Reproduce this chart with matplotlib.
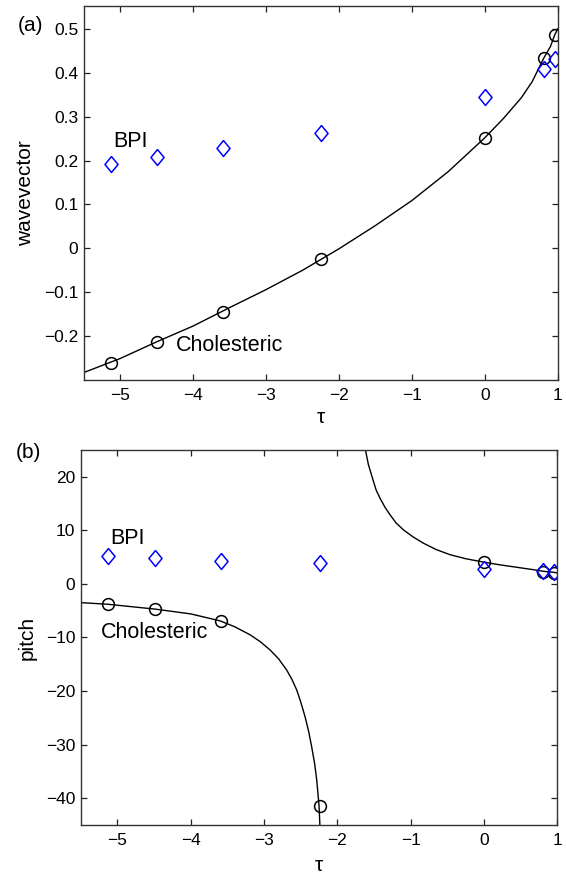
import matplotlib
matplotlib.use('Agg')
import matplotlib.pyplot as plt

plt.rcParams['font.family'] = ['Liberation Sans', 'DejaVu Sans']

# Messpunkte
tau = [-5.13, -4.49, -3.59, -2.24, 0.0, 0.81, 0.96]
q_chol = [-0.261, -0.214, -0.145, -0.024, 0.252, 0.434, 0.487]
q_bpi = [0.192, 0.208, 0.228, 0.262, 0.345, 0.408, 0.432]
pitch_chol = [-3.8, -4.7, -6.9, -41.4, 4.04, 2.3, 2.1]
pitch_bpi = [5.2, 4.8, 4.35, 3.85, 2.75, 2.4, 2.3]

# Fitkurve wavevector
tau_fit = [-5.5, -5.0, -4.5, -4.0, -3.5, -3.0, -2.5, -2.0, -1.5, -1.0, -0.5,
           0.0, 0.25, 0.5, 0.65, 0.81, 0.9, 0.96, 1.0]
q_fit = [-0.283, -0.251, -0.213, -0.177, -0.135, -0.094, -0.050, -0.001, 0.052,
         0.109, 0.175, 0.252, 0.295, 0.343, 0.38, 0.434, 0.46, 0.487, 0.50]

# Fitkurve pitch, zwei Aeste
tau_low = [-5.5, -5.13, -4.49, -4.0, -3.6, -3.4, -3.19, -3.05, -2.92, -2.8,
           -2.69, -2.62, -2.554, -2.5, -2.44, -2.39, -2.35, -2.31, -2.281, -2.25,
           -2.236]
p_low = [-3.5, -3.8, -4.7, -5.6, -6.9, -8.0, -9.5, -10.8, -12.3, -14.0,
         -16.1, -17.8, -19.8, -22.0, -24.8, -27.6, -30.4, -33.5, -36.6, -41.3,
         -45.6]
tau_up = [-1.622, -1.577, -1.509, -1.47, -1.418, -1.35, -1.281, -1.2, -1.10,
          -0.97, -0.827, -0.65, -0.463, -0.25, 0.0, 0.22, 0.447, 0.65, 0.81,
          0.946, 1.0]
p_up = [25.4, 22.3, 19.2, 17.5, 16.0, 14.3, 12.9, 11.4, 10.1, 8.8, 7.6, 6.4,
        5.45, 4.7, 4.05, 3.55, 3.1, 2.7, 2.35, 2.17, 2.05]

xticks = [-5, -4, -3, -2, -1, 0, 1]
yticks_a = [-0.2, -0.1, 0, 0.1, 0.2, 0.3, 0.4, 0.5]
yticks_b = [-40, -30, -20, -10, 0, 10, 20]

diamond = [(0, 1), (0.82, 0), (0, -1), (-0.82, 0), (0, 1)]


def style_axes(ax):
    ax.tick_params(direction='in', top=True, right=True, length=4.5, width=0.9,
                   labelsize=12.5, color='#222222')
    ax.tick_params(axis='x', pad=6)
    ax.tick_params(axis='y', pad=4)
    for s in ax.spines.values():
        s.set_linewidth(1.0)
        s.set_color('#333333')


fig = plt.figure(figsize=(5.66, 8.73), dpi=100)

# (a) wavevector
ax1 = fig.add_axes([0.1479, 0.5647, 0.8375, 0.4288])
ax1.plot(tau_fit, q_fit, color='black', lw=1.0)
ax1.plot(tau, q_chol, 'o', ms=8.5, mfc='none', mec='black', mew=1.1)
ax1.plot(tau, q_bpi, marker=diamond, ls='none', ms=11.5, mfc='none', mec='blue', mew=1.1)
ax1.set_xlim(-5.5, 1)
ax1.set_ylim(-0.3, 0.553)
ax1.set_xticks(xticks)
ax1.set_yticks(yticks_a)
ax1.set_yticklabels(['\u22120.2', '\u22120.1', '0', '0.1', '0.2', '0.3', '0.4', '0.5'])
ax1.set_xlabel('\u03c4', fontsize=15, va='center')
ax1.xaxis.set_label_coords(0.5, -0.10)
ax1.set_ylabel('wavevector', fontsize=15, va='center')
ax1.yaxis.set_label_coords(-0.123, 0.5)
ax1.text(-5.10, 0.243, 'BPI', fontsize=15.5, va='center', ha='left')
ax1.text(-4.24, -0.222, 'Cholesteric', fontsize=15.5, va='center', ha='left')
style_axes(ax1)

# (b) pitch
ax2 = fig.add_axes([0.1426, 0.055, 0.842, 0.4296])
ax2.plot(tau_low, p_low, color='black', lw=1.0)
ax2.plot(tau_up, p_up, color='black', lw=1.0)
ax2.plot(tau, pitch_chol, 'o', ms=8.5, mfc='none', mec='black', mew=1.1)
ax2.plot(tau, pitch_bpi, marker=diamond, ls='none', ms=11.5, mfc='none', mec='blue', mew=1.1)
ax2.set_xlim(-5.5, 1)
ax2.set_ylim(-45, 25)
ax2.set_xticks(xticks)
ax2.set_yticks(yticks_b)
ax2.set_xlabel('\u03c4', fontsize=15, va='center')
ax2.xaxis.set_label_coords(0.5, -0.107)
ax2.set_ylabel('pitch', fontsize=15, va='center')
ax2.yaxis.set_label_coords(-0.113, 0.5)
ax2.text(-5.10, 8.5, 'BPI', fontsize=15.5, va='center', ha='left')
ax2.text(-5.23, -9.0, 'Cholesteric', fontsize=15.5, va='center', ha='left')
style_axes(ax2)

fig.text(0.032, 0.971, '(a)', fontsize=15, va='center', ha='left')
fig.text(0.028, 0.482, '(b)', fontsize=15, va='center', ha='left')

fig.savefig('out.png', dpi=100)
